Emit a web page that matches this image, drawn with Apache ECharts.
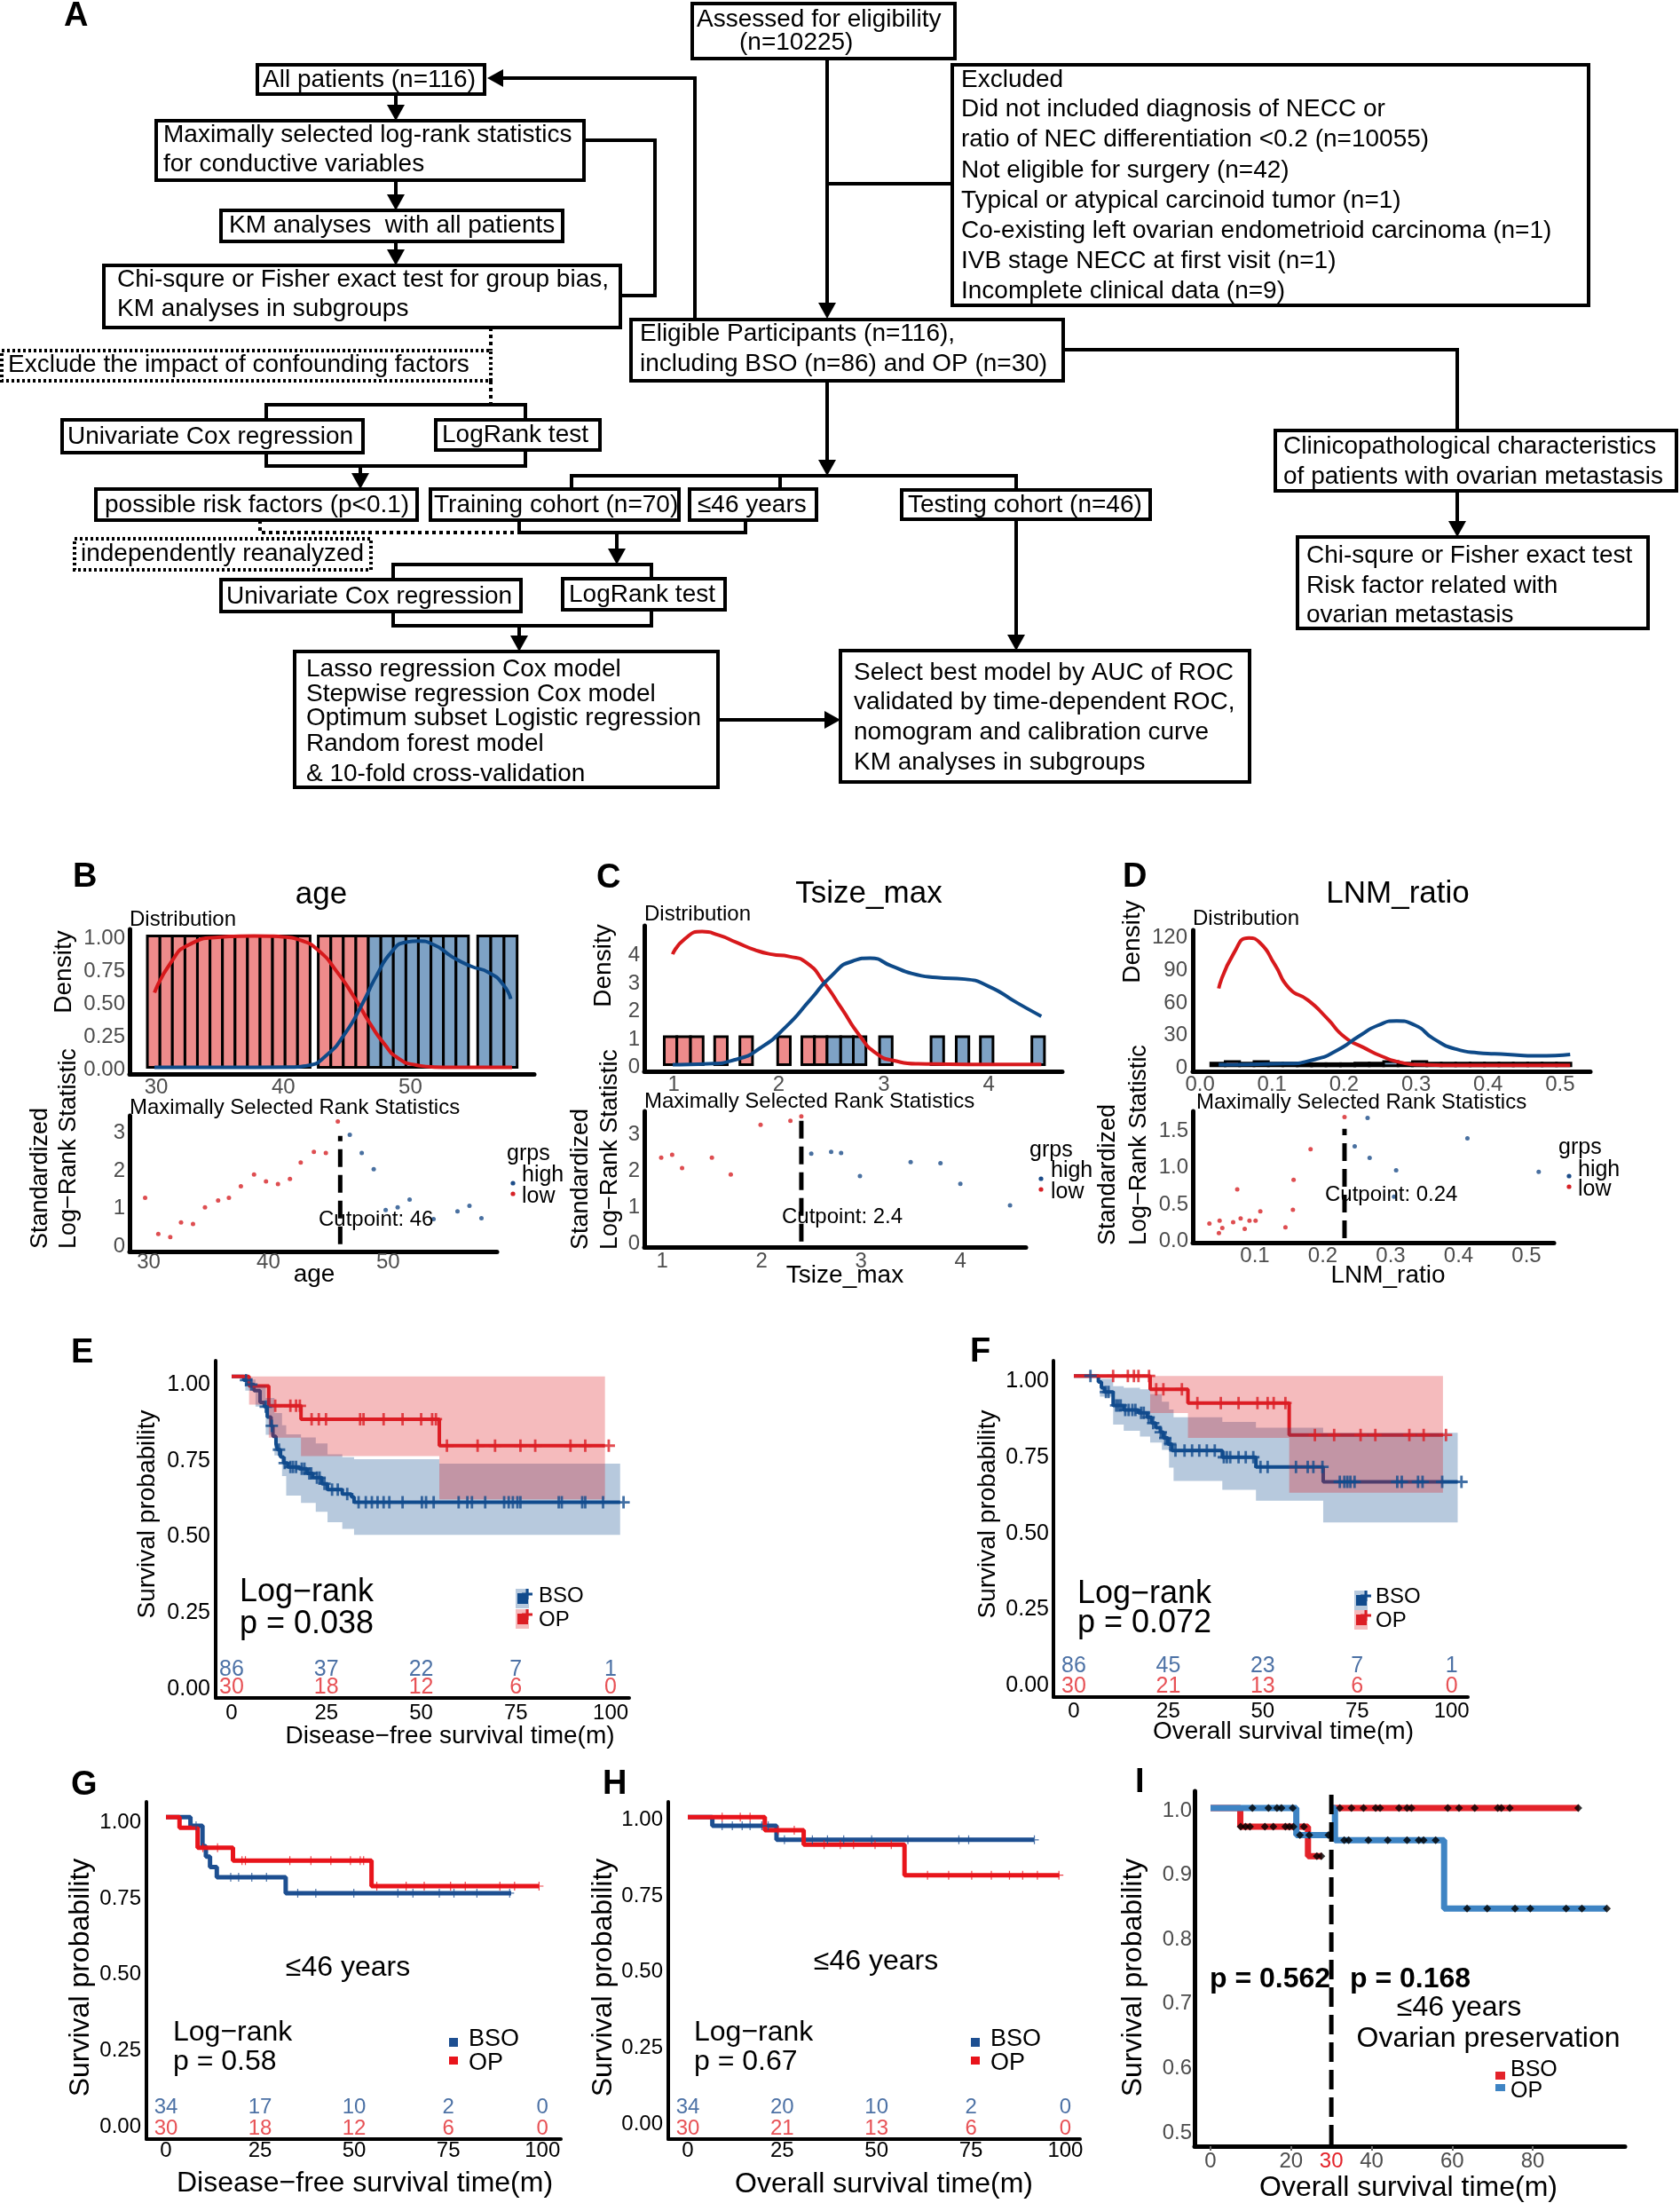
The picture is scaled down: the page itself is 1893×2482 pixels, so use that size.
<!DOCTYPE html>
<html><head><meta charset="utf-8">
<script src="https://cdn.jsdelivr.net/npm/echarts@6/dist/echarts.min.js"></script>
<style>html,body{margin:0;padding:0;background:#fff}#c{width:1893px;height:2482px}</style>
</head><body><div id="c"></div>
<script>
// ---------------- DATA ----------------
// Panel A flowchart texts
const flowText = [
 ['Assessed for eligibility','(n=10225)'],
 ['All patients (n=116)'],
 ['Maximally selected log-rank statistics','for conductive variables'],
 ['KM analyses  with all patients'],
 ['Chi-squre or Fisher exact test for group bias,','KM analyses in subgroups'],
 ['Exclude the impact of confounding factors'],
 ['Univariate Cox regression'],
 ['LogRank test'],
 ['possible risk factors (p<0.1)'],
 ['Training cohort (n=70)'],
 ['\u226446 years'],
 ['Testing cohort (n=46)'],
 ['independently reanalyzed'],
 ['Univariate Cox regression'],
 ['LogRank test'],
 ['Lasso regression Cox model','Stepwise regression Cox model','Optimum subset Logistic regression','Random forest model','& 10-fold cross-validation'],
 ['Select best model by AUC of ROC','validated by time-dependent ROC,','nomogram and calibration curve','KM analyses in subgroups'],
 ['Excluded','Did not included diagnosis of NECC or','ratio of NEC differentiation <0.2 (n=10055)','Not eligible for surgery (n=42)','Typical or atypical carcinoid tumor (n=1)','Co-existing left ovarian endometrioid carcinoma (n=1)','IVB stage NECC at first visit (n=1)','Incomplete clinical data (n=9)'],
 ['Eligible Participants (n=116),','including BSO (n=86) and OP (n=30)'],
 ['Clinicopathological characteristics','of patients with ovarian metastasis'],
 ['Chi-squre or Fisher exact test','Risk factor related with','ovarian metastasis']
];

// Panel B: age
const ageTicks = [30, 40, 50];
const ageBinLeft  = [29.30,30.29,31.27,32.26,33.24,34.23,35.21,36.20,37.18,38.17,39.15,40.14,41.12,42.75,43.74,44.72,45.71,46.69,47.68,48.66,49.65,50.63,51.62,52.60,53.59,55.30,56.33,57.37];
const ageBinRight = [30.29,31.27,32.26,33.24,34.23,35.21,36.20,37.18,38.17,39.15,40.14,41.12,42.11,43.74,44.72,45.71,46.69,47.68,48.66,49.65,50.63,51.62,52.60,53.59,54.57,56.33,57.37,58.40];
const ageBinHeight= [1,1,1,1,1,1,1,1,1,1,1,1,1,1,1,1,1,1,1,1,1,1,1,1,1,1,1,1];
const ageBinGroup = [0,0,0,0,0,0,0,0,0,0,0,0,0,0,0,0,0,1,1,1,1,1,1,1,1,1,1,1];
const ageDensLow  = [[29.86,0.568],[31.14,0.795],[32.56,0.932],[34.84,0.989],[37.68,1.0],[39.96,0.993],[41.38,0.966],[42.8,0.886],[44.22,0.727],[45.65,0.523],[46.78,0.341],[47.92,0.182],[49.06,0.068],[50.48,0.018],[51.9,0.003],[54.0,0],[58.0,0]];
const ageDensHigh = [[29.86,0],[35.0,0],[40.5,0.002],[41.95,0.015],[43.37,0.09],[44.8,0.25],[46.2,0.48],[47.35,0.70],[48.5,0.875],[49.6,0.95],[50.6,0.96],[51.9,0.93],[53.3,0.84],[54.75,0.77],[56.2,0.72],[57.3,0.63],[57.9,0.52]];
const ageStatLow  = [[29.7,1.22],[30.8,0.27],[31.8,0.19],[32.7,0.57],[33.7,0.53],[34.7,0.97],[35.8,1.15],[36.7,1.22],[37.7,1.52],[38.8,1.83],[39.8,1.65],[40.8,1.58],[41.8,1.71],[42.7,2.14],[43.8,2.42],[44.8,2.39],[45.8,3.22]];
const ageStatHigh = [[46.8,2.87],[47.8,2.39],[48.8,1.97],[49.8,0.90],[50.8,0.97],[51.8,1.17],[53.8,0.66],[55.8,0.86],[56.8,1.01],[57.8,0.68]];
const ageCut = 46;

// Panel C: Tsize_max
const tsBinLeft  = [0.91,1.03,1.16,1.39,1.63,1.99,2.22,2.34,2.46,2.59,2.71,2.96,3.45,3.69,3.92,4.41];
const tsBinRight = [1.03,1.16,1.28,1.51,1.75,2.11,2.34,2.46,2.59,2.71,2.83,3.08,3.57,3.81,4.04,4.53];
const tsBinHeight= [1,1,1,1,1,1,1,1,1,1,1,1,1,1,1,1];
const tsBinGroup = [0,0,0,0,0,0,0,0,1,1,1,1,1,1,1,1];
const tsDensLow  = [[0.99,3.95],[1.10,4.48],[1.27,4.76],[1.43,4.63],[1.6,4.37],[1.77,4.11],[1.93,3.95],[2.1,3.87],[2.27,3.63],[2.43,2.94],[2.6,2.0],[2.77,1.04],[2.93,0.40],[3.1,0.14],[3.33,0.03],[3.8,0.01],[4.5,0.01]];
const tsDensHigh = [[0.99,0.0],[1.33,0.03],[1.6,0.19],[1.83,0.61],[2.07,1.36],[2.3,2.32],[2.5,3.17],[2.7,3.70],[2.87,3.81],[3.07,3.54],[3.27,3.26],[3.5,3.12],[3.77,3.06],[4.0,2.8],[4.27,2.21],[4.5,1.73]];
const tsStatLow  = [[0.99,2.29],[1.10,2.37],[1.20,2.01],[1.50,2.29],[1.69,1.83],[1.99,3.19],[2.29,3.30],[2.40,3.42]];
const tsStatHigh = [[2.50,2.40],[2.70,2.45],[2.80,2.42],[2.99,1.79],[3.50,2.17],[3.80,2.14],[4.00,1.58],[4.50,0.99]];
const tsCut = 2.4;

// Panel D: LNM_ratio
const lnmBinLeft  = [0.015,0.035,0.055,0.075,0.095,0.115,0.135,0.155,0.175,0.195,0.215,0.235,0.255,0.275,0.295,0.315,0.335,0.355,0.375,0.395,0.415,0.435,0.455,0.475,0.495];
const lnmBinRight = [0.035,0.055,0.075,0.095,0.115,0.135,0.155,0.175,0.195,0.215,0.235,0.255,0.275,0.295,0.315,0.335,0.355,0.375,0.395,0.415,0.435,0.455,0.475,0.495,0.515];
const lnmBinHeight= [2.5,4,2.5,4,2.5,2.5,2,2,2,2,2.5,2.5,4,2.5,4,2.5,2.5,2.5,2.5,2.5,2.5,2.5,2.5,2.5,2.5];
const lnmBinGroup = [0,0,0,0,0,0,0,0,0,0,0,1,1,1,1,1,1,1,1,1,1,1,1,1,1];
const lnmDensLow  = [[0.026,70.8],[0.047,103],[0.068,116.8],[0.083,112.7],[0.104,92.4],[0.124,70.8],[0.150,60],[0.176,43.8],[0.201,26.2],[0.227,16.8],[0.253,8.6],[0.278,3.2],[0.304,1.1],[0.376,0.5],[0.514,0.5]];
const lnmDensHigh = [[0.026,1],[0.119,2],[0.16,6],[0.19,14],[0.222,27.6],[0.247,37],[0.273,41],[0.299,37],[0.324,24.9],[0.355,15.4],[0.386,11.9],[0.427,10.5],[0.468,9.2],[0.514,10.5]];
const lnmStatLow  = [[0.033,0.20],[0.048,0.24],[0.047,0.07],[0.052,0.14],[0.068,0.22],[0.074,0.67],[0.079,0.27],[0.085,0.13],[0.092,0.24],[0.101,0.24],[0.108,0.37],[0.145,0.15],[0.156,0.39],[0.157,0.80],[0.182,1.22],[0.232,1.66]];
const lnmStatHigh = [[0.247,1.26],[0.266,1.65],[0.269,1.10],[0.308,0.93],[0.305,0.57],[0.413,1.37],[0.518,0.91]];
const lnmCut = 0.232;

// Panel E: disease-free survival, all patients
const dfsBSO_t = [0,3.2,4.4,5.9,7.5,8.6,9.4,10.4,10.9,11.7,12.1,12.9,13.7,14.8,17.9,19.9,21.4,23.8,25.3,29.2,31.6,32.3,102.5];
const dfsBSO_s = [1,0.988,0.974,0.954,0.915,0.901,0.867,0.838,0.804,0.779,0.760,0.736,0.716,0.703,0.697,0.682,0.668,0.648,0.629,0.614,0.605,0.587,0.587];
const dfsBSO_cens = [3.8,5.2,9.0,10.6,12.5,14.0,15.5,16.2,17.0,18.5,19.2,20.5,21.0,22.5,23.2,24.5,26.5,28.0,30.5,33.5,35.4,37.0,38.5,40.1,41.6,45.1,50.2,51.3,53.3,59.9,62.2,63.4,66.9,71.9,73.1,74.2,75.4,76.2,86.3,87.1,92.5,93.3,98.0,103.4];
const dfsBSO_ciT  = [0,3.6,6.3,9.0,11.3,13.3,14.4,18.3,22.2,25.3,29.2,32.3,54.8,102.5];
const dfsBSO_ciLo = [1,0.954,0.901,0.809,0.741,0.673,0.609,0.585,0.556,0.522,0.500,0.480,0.480,0.480];
const dfsBSO_ciHi = [1,0.99,0.97,0.93,0.88,0.84,0.81,0.80,0.78,0.745,0.735,0.729,0.714,0.714];
const dfsOP_t = [0,4.6,9.8,18.3,54.8,98.5];
const dfsOP_s = [1,0.969,0.904,0.860,0.773,0.773];
const dfsOP_cens = [11.5,15.5,17.0,18.0,21.1,23.0,24.9,33.9,34.8,40.1,45.1,50.0,52.9,53.9,56.8,64.9,69.5,76.2,80.1,89.4,93.3,99.5];
const dfsOP_ciT  = [4.6,9.8,18.3,54.8,98.5];
const dfsOP_ciLo = [0.908,0.799,0.739,0.597,0.597];
const dfsOP_ciHi = [1,1,1,1,1];

// Panel F: overall survival, all patients
const osBSO_t = [0,6.5,7.3,8.1,10.4,13.2,17.1,19.4,20.6,21.7,22.9,23.7,24.9,26.0,39.3,48.2,66.0,101.6];
const osBSO_s = [1,0.980,0.961,0.947,0.903,0.888,0.879,0.864,0.845,0.830,0.815,0.796,0.776,0.755,0.733,0.701,0.652,0.652];
const osBSO_cens = [4.4,8.5,9.2,11.2,11.8,12.4,13.6,14.5,15.5,16.3,17.8,18.5,19.8,21.0,23.0,24.2,25.5,26.9,29.3,31.3,33.2,35.2,37.3,39.7,40.5,41.4,43.6,45.5,47.5,49.4,51.3,58.8,61.9,63.4,65.8,70.4,71.6,72.4,73.2,74.3,85.6,86.8,91.1,92.3,97.5,102.6];
const osBSO_ciT  = [0,6.9,10.4,13.2,17.5,20.2,23.3,25.2,26.4,39.3,48.2,66.0,101.6];
const osBSO_ciLo = [1,0.932,0.840,0.820,0.801,0.781,0.757,0.699,0.655,0.626,0.590,0.519,0.519];
const osBSO_ciHi = [1,0.99,0.966,0.961,0.956,0.94,0.915,0.89,0.864,0.849,0.830,0.813,0.813];
const osOP_t = [0,20.2,30.2,57.0,97.7];
const osOP_s = [1,0.956,0.911,0.806,0.806];
const osOP_cens = [10.4,14.3,15.9,17.1,19.9,21.8,23.7,28.6,32.7,38.9,43.6,48.6,51.3,52.9,56.0,63.8,68.9,75.9,79.8,88.8,92.6,98.5];
const osOP_ciT  = [20.2,30.2,57.0,97.7];
const osOP_ciLo = [0.878,0.796,0.616,0.616];
const osOP_ciHi = [1,1,1,1];

// Panel G / H: <=46 years
const dfsYBSO_t = [0,6.5,9.7,10.6,11.7,13.5,31.8,91.7];
const dfsYBSO_s = [1,0.971,0.904,0.870,0.836,0.802,0.750,0.750];
const dfsYBSO_cens = [8.0,17.2,19.3,22.8,26.7,35.0,39.8,49.9,61.6,65.6,72.6,76.5,82.6,91.3];
const dfsYOP_t = [0,3.6,8.4,17.8,54.6,99.1];
const dfsYOP_s = [1,0.965,0.899,0.857,0.773,0.773];
const dfsYOP_cens = [9.8,13.7,20.2,21.1,32.9,38.5,43.8,49.0,51.6,52.5,56.0,63.8,68.6,75.6,79.5,88.7,92.6,99.1];
const osYBSO_t = [0,6.5,23.5,91.7];
const osYBSO_s = [1,0.971,0.925,0.925];
const osYBSO_cens = [9.1,11.8,14.4,16.5,19.6,21.3,25.6,33.0,37.0,41.3,48.7,58.3,71.8,74.4,91.8];
const osYOP_t = [0,20.4,30.7,57.4,98.4];
const osYOP_s = [1,0.957,0.909,0.809,0.809];
const osYOP_cens = [9.1,13.9,16.5,23.9,28.2,36.1,40.4,43.9,49.6,53.9,63.5,69.1,75.2,80.4,85.2,88.7,92.6,98.3];

// Panel I: landmark at 30 months, ovarian preservation
const landmark = 30;
const lmBSOpre_t = [0,7.4,24.2,27.7];  const lmBSOpre_s = [1,0.971,0.925,0.925];
const lmBSOpost_t = [30,91.5];        const lmBSOpost_s = [1,1];
const lmOPpre_t = [0,21.3,30.0];       const lmOPpre_s = [1,0.958,0.958];
const lmOPpost_t = [30,30.9,58.0,98.4]; const lmOPpost_s = [1,0.95,0.844,0.844];
const lmBSOpre_cens = [7.5,8.7,9.8,13.5,15.6,18.6,19.6,20.6,23.2,26.4,27.5];
const lmBSOpost_cens = [32.1,35.0,38.0,41.0,42.1,46.8,48.8,49.9,58.9,61.7,65.6,71.3,72.2,74.3,91.3];
const lmOPpre_cens = [10.4,14.4,16.5,17.6,20.4,22.2,24.5,29.3];
const lmOPpost_cens = [33.2,34.3,39.2,44.0,48.8,51.7,52.9,55.9,63.7,68.7,75.6,79.4,88.3,92.2,98.4];

// Risk tables
const riskTimes = [0,25,50,75,100];
const riskDfsBSO = [86,37,22,7,1];   const riskDfsOP = [30,18,12,6,0];
const riskOsBSO  = [86,45,23,7,1];   const riskOsOP  = [30,21,13,6,0];
const riskDfsYBSO = [34,17,10,2,0];  const riskDfsYOP = [30,18,12,6,0];
const riskOsYBSO  = [34,20,10,2,0];  const riskOsYOP  = [30,21,13,6,0];

// tick values
const kmTicksX = [0,25,50,75,100];
const kmTicksY = [0,0.25,0.5,0.75,1];

// ---------------- STYLE ----------------
const FONT = '"Liberation Sans", Arial, Helvetica, "DejaVu Sans", sans-serif';
const GRAY = '#4D4D4D';
const BAR_RED = '#EE8B8B', BAR_BLUE = '#7EA2C5';
const DRED = '#D7191C', DBLUE = '#0E4A88';
const PRED = '#D62226', PBLUE = '#1C4C88';
const KRED = '#DC1E24', KBLUE = '#114B8D';
const KRED_BAND = 'rgba(222,31,38,0.3)', KBLUE_BAND = 'rgba(17,75,141,0.3)';
const GRED = '#E8141B', GBLUE = '#1D4F91';
const IRED = '#E3232A', IBLUE = '#3E84C4';
const RISK_BLUE = '#1F4E8F', RISK_RED = '#E1262A';
const PLUS = 'path://M4,0H6V4H10V6H6V10H4V6H0V4H4Z';
const PLUS_THIN = 'path://M4.4,0H5.6V4.4H10V5.6H5.6V10H4.4V5.6H0V4.4H4.4Z';

const levelAt = (t, T, V) => { let v = V[0]; for (let i = 0; i < T.length; i++) if (T[i] <= t) v = V[i]; return v; };
const zip = (T, V) => T.map((t, i) => [t, V[i]]);

// ---------------- GRIDS / AXES ----------------
const GR = [
 {l:146, t:1047, w:456, h:163, x:[27.9,59.75], y:[-0.05,1.05]},
 {l:146, t:1257, w:414, h:153, x:[28.4,59.1], y:[-0.19,3.37]},
 {l:726, t:1043, w:471, h:164, x:[0.72,4.70], y:[-0.24,4.97]},
 {l:726, t:1252, w:430, h:153, x:[0.82,4.66], y:[-0.15,3.56]},
 {l:1344, t:1048, w:448, h:159, x:[-0.01,0.542], y:[-5,124]},
 {l:1344, t:1252, w:407, h:148, x:[0.0085,0.5405], y:[-0.06,1.74]},
 {l:243, t:1533, w:466, h:380, x:[-4.215,104.9], y:[-0.055,1.052]},
 {l:1187, t:1533, w:467, h:379, x:[-5.4,104.3], y:[-0.055,1.05]},
 {l:165, t:2030, w:467, h:380, x:[-5.19,104.9], y:[-0.058,1.05]},
 {l:753, t:2030, w:464, h:380, x:[-5.17,103.9], y:[-0.058,1.05]},
 {l:1346, t:2018, w:485, h:400, x:[-3.96,102.9], y:[0.4752,1.026]}
];
const f0 = v => String(v), f1 = v => v.toFixed(1), f2 = v => v.toFixed(2);
const AX = [
 {x:{v:ageTicks, f:f0, c:GRAY, s:24, m:3, lw:5}, y:{v:[0,0.25,0.5,0.75,1], f:f2, c:GRAY, s:24, m:5, lw:5, pt:6}},
 {x:{v:ageTicks, f:f0, c:GRAY, s:24, m:0, lw:5}, y:{v:[0,1,2,3], f:f0, c:GRAY, s:24, m:5, lw:5, pt:6}},
 {x:{v:[1,2,3,4], f:f0, c:GRAY, s:24, m:3, lw:5}, y:{v:[0,1,2,3,4], f:f0, c:GRAY, s:24, m:5, lw:5, pt:6}},
 {x:{v:[1,2,3,4], f:f0, c:GRAY, s:24, m:4, lw:5}, y:{v:[0,1,2,3], f:f0, c:GRAY, s:24, m:5, lw:5, pt:6}},
 {x:{v:[0,0.1,0.2,0.3,0.4,0.5], f:f1, c:GRAY, s:24, m:3, lw:5}, y:{v:[0,30,60,90,120], f:f0, c:GRAY, s:24, m:6, lw:5, pt:6}},
 {x:{v:[0.1,0.2,0.3,0.4,0.5], f:f1, c:GRAY, s:24, m:3, lw:5}, y:{v:[0,0.5,1,1.5], f:f1, c:GRAY, s:24, m:5, lw:5, pt:6}},
 {x:{v:kmTicksX, f:f0, c:'#000', s:24, m:5, lw:4}, y:{v:kmTicksY, f:f2, c:'#000', s:25, m:6, lw:4, pt:18}},
 {x:{v:kmTicksX, f:f0, c:'#000', s:24, m:4, lw:4}, y:{v:kmTicksY, f:f2, c:'#000', s:25, m:5, lw:4, pt:12}},
 {x:{v:kmTicksX, f:f0, c:'#000', s:24, m:1, lw:4}, y:{v:kmTicksY, f:f2, c:'#000', s:24, m:6, lw:4, pt:12}},
 {x:{v:kmTicksX, f:f0, c:'#000', s:24, m:1, lw:4}, y:{v:kmTicksY, f:f2, c:'#000', s:24, m:6, lw:4, pt:6}},
 {x:{v:[0,20,30,40,60,80], f:v => v === landmark ? '{r|' + v + '}' : String(v), c:GRAY, s:24, m:5, lw:5, tick:[0,20,40,60,80], rich:{r:{color:IRED, fontSize:24, fontFamily:FONT}}},
  y:{v:[0.5,0.6,0.7,0.8,0.9,1.0], f:f1, c:GRAY, s:24, m:3, lw:5, pt:6}}
];
function mkAxis(g, a, mm) {
 let fmt = a.f, rich = a.rich;
 if (a.pt) {
  fmt = v => '{p|' + a.f(v) + '}';
  rich = {p:{padding:[a.pt,0,0,0], fontSize:a.s, color:a.c, fontFamily:FONT}};
 }
 return {type:'value', gridIndex:g, min:mm[0], max:mm[1],
  axisLine:{show:true, onZero:false, lineStyle:{color:'#000', width:a.lw}},
  axisTick:a.tick ? {show:true, customValues:a.tick, length:5, lineStyle:{color:'#666', width:2}} : {show:false},
  splitLine:{show:false},
  axisLabel:{show:true, customValues:a.v, formatter:fmt, color:a.c, fontSize:a.s, fontFamily:FONT, margin:a.m, rich:rich}};
}
const grids = GR.map(g => ({left:g.l, top:g.t, width:g.w, height:g.h, containLabel:false, outerBoundsMode:'none'}));
const xAxes = GR.map((g, i) => mkAxis(i, AX[i].x, g.x));
const yAxes = GR.map((g, i) => mkAxis(i, AX[i].y, g.y));

// ---------------- SERIES ----------------
const S = [];
function bins(g, L, R, H, grp) {
 S.push({type:'custom', xAxisIndex:g, yAxisIndex:g, silent:true, z:2,
  data:L.map((l, i) => [l, R[i], H[i], grp[i]]),
  renderItem:(p, api) => {
   const a = api.coord([api.value(0), 0]), b = api.coord([api.value(1), api.value(2)]);
   return {type:'rect', shape:{x:a[0], y:b[1], width:b[0]-a[0], height:a[1]-b[1]},
     style:{fill:api.value(3) ? BAR_BLUE : BAR_RED, stroke:'#000', lineWidth:3}};
  }});
}
function dens(g, pts, color) {
 S.push({type:'line', xAxisIndex:g, yAxisIndex:g, data:pts, smooth:0.6, symbol:'none', silent:true, z:5, lineStyle:{color, width:4}});
}
function dots(g, pts, color) {
 S.push({type:'scatter', xAxisIndex:g, yAxisIndex:g, data:pts, symbol:'circle', symbolSize:5, silent:true, z:5, itemStyle:{color}});
}
function vdash(g, x, y0, y1, w, dash) {
 S.push({type:'line', xAxisIndex:g, yAxisIndex:g, data:[[x,y0],[x,y1]], symbol:'none', silent:true, z:6, lineStyle:{color:'#000', width:w, type:dash}});
}
function stepLine(g, T, V, color, w, z) {
 S.push({type:'line', xAxisIndex:g, yAxisIndex:g, step:'end', data:zip(T, V), symbol:'none', silent:true, z:z || 2, lineStyle:{color, width:w}});
}
function band(g, T, lo, hi, color) {
 S.push({type:'custom', xAxisIndex:g, yAxisIndex:g, silent:true, z:3, data:[[T[0], lo[0]]],
  renderItem:(p, api) => {
   const top = [], bot = [];
   for (let i = 0; i < T.length; i++) {
    const x1 = i < T.length - 1 ? T[i+1] : T[i];
    top.push(api.coord([T[i], hi[i]]), api.coord([x1, hi[i]]));
    bot.push(api.coord([T[i], lo[i]]), api.coord([x1, lo[i]]));
   }
   return {type:'polygon', shape:{points:top.concat(bot.reverse())}, style:{fill:color}};
  }});
}
function censor(g, times, T, V, color, sym, size) {
 S.push({type:'scatter', xAxisIndex:g, yAxisIndex:g, data:times.map(t => [t, levelAt(t, T, V)]), symbol:sym, symbolSize:size, silent:true, z:4, itemStyle:{color}});
}
function risk(g, counts, y, color, size) {
 S.push({type:'scatter', xAxisIndex:g, yAxisIndex:g, data:riskTimes.map((t, i) => [t, y, counts[i]]), symbolSize:1, silent:true, z:5,
  itemStyle:{color:'rgba(0,0,0,0)'},
  label:{show:true, position:'inside', formatter:p => String(p.value[2]), color, fontSize:size, fontFamily:FONT}});
}

// B
bins(0, ageBinLeft, ageBinRight, ageBinHeight, ageBinGroup);
dens(0, ageDensLow, DRED); dens(0, ageDensHigh, DBLUE);
dots(1, ageStatLow, PRED); dots(1, ageStatHigh, PBLUE);
vdash(1, ageCut, 0, 2.84, 5, [20, 9]);
// C
bins(2, tsBinLeft, tsBinRight, tsBinHeight, tsBinGroup);
dens(2, tsDensLow, DRED); dens(2, tsDensHigh, DBLUE);
dots(3, tsStatLow, PRED); dots(3, tsStatHigh, PBLUE);
vdash(3, tsCut, 0, 3.44, 5, [20, 9]);
// D
bins(4, lnmBinLeft, lnmBinRight, lnmBinHeight, lnmBinGroup);
dens(4, lnmDensLow, DRED); dens(4, lnmDensHigh, DBLUE);
dots(5, lnmStatLow, PRED); dots(5, lnmStatHigh, PBLUE);
vdash(5, lnmCut, 0, 1.5, 5, [20, 9]);
// E
stepLine(6, dfsBSO_t, dfsBSO_s, KBLUE, 4); stepLine(6, dfsOP_t, dfsOP_s, KRED, 4);
band(6, dfsBSO_ciT, dfsBSO_ciLo, dfsBSO_ciHi, KBLUE_BAND); band(6, dfsOP_ciT, dfsOP_ciLo, dfsOP_ciHi, KRED_BAND);
censor(6, dfsBSO_cens, dfsBSO_t, dfsBSO_s, KBLUE, PLUS, 14); censor(6, dfsOP_cens, dfsOP_t, dfsOP_s, KRED, PLUS, 14);
risk(6, riskDfsBSO, 0.038, RISK_BLUE, 25); risk(6, riskDfsOP, -0.020, RISK_RED, 25);
// F
stepLine(7, osBSO_t, osBSO_s, KBLUE, 4); stepLine(7, osOP_t, osOP_s, KRED, 4);
band(7, osBSO_ciT, osBSO_ciLo, osBSO_ciHi, KBLUE_BAND); band(7, osOP_ciT, osOP_ciLo, osOP_ciHi, KRED_BAND);
censor(7, osBSO_cens, osBSO_t, osBSO_s, KBLUE, PLUS, 14); censor(7, osOP_cens, osOP_t, osOP_s, KRED, PLUS, 14);
risk(7, riskOsBSO, 0.047, RISK_BLUE, 25); risk(7, riskOsOP, -0.020, RISK_RED, 25);
// G
stepLine(8, dfsYBSO_t, dfsYBSO_s, GBLUE, 5); stepLine(8, dfsYOP_t, dfsYOP_s, GRED, 5);
censor(8, dfsYBSO_cens, dfsYBSO_t, dfsYBSO_s, GBLUE, PLUS_THIN, 10); censor(8, dfsYOP_cens, dfsYOP_t, dfsYOP_s, GRED, PLUS_THIN, 10);
risk(8, riskDfsYBSO, 0.047, RISK_BLUE, 24); risk(8, riskDfsYOP, -0.023, RISK_RED, 24);
// H
stepLine(9, osYBSO_t, osYBSO_s, GBLUE, 5); stepLine(9, osYOP_t, osYOP_s, GRED, 5);
censor(9, osYBSO_cens, osYBSO_t, osYBSO_s, GBLUE, PLUS_THIN, 10); censor(9, osYOP_cens, osYOP_t, osYOP_s, GRED, PLUS_THIN, 10);
risk(9, riskOsYBSO, 0.047, RISK_BLUE, 24); risk(9, riskOsYOP, -0.023, RISK_RED, 24);
// I
stepLine(10, lmBSOpre_t, lmBSOpre_s, IRED, 7); stepLine(10, lmBSOpost_t, lmBSOpost_s, IRED, 7);
stepLine(10, lmOPpre_t, lmOPpre_s, IBLUE, 7, 3); stepLine(10, lmOPpost_t, lmOPpost_s, IBLUE, 7, 3);
censor(10, lmBSOpre_cens, lmBSOpre_t, lmBSOpre_s, '#000', 'diamond', 9);
censor(10, lmBSOpost_cens, lmBSOpost_t, lmBSOpost_s, '#000', 'diamond', 9);
censor(10, lmOPpre_cens, lmOPpre_t, lmOPpre_s, '#000', 'diamond', 9);
censor(10, lmOPpost_cens, lmOPpost_t, lmOPpost_s, '#000', 'diamond', 9);
vdash(10, landmark, 0.478, 1.022, 5, [22, 9]);

// ---------------- GRAPHIC (flowchart + annotations) ----------------
const GE = [];
function T(text, x, y, size, o) {
 o = o || {};
 const al = o.align || 'left', va = o.va || 'middle';
 GE.push({type:'text', x, y, rotation:o.rot || 0, z:50, silent:true,
  style:{text, x:0, y:0, font:(o.bold ? 'bold ' : '') + size + 'px ' + FONT, fill:o.color || '#000',
   align:al, textAlign:al, verticalAlign:va, textVerticalAlign:va}});
}
function R(x, y, w, h, fill, stroke, lw, dash) {
 GE.push({type:'rect', z:40, silent:true, shape:{x, y, width:w, height:h},
  style:{fill:fill, stroke:stroke || null, lineWidth:lw || 0, lineDash:dash || null}});
}
function L(points, dash) {
 GE.push({type:'polyline', z:41, silent:true, shape:{points}, style:{stroke:'#000', lineWidth:4, fill:null, lineDash:dash || null}});
}
function arrow(x, y, dir) { // tip at x,y
 const a = 18, b = 10; let p;
 if (dir === 'down') p = [[x,y],[x-b,y-a],[x+b,y-a]];
 else if (dir === 'left') p = [[x,y],[x+a,y-b],[x+a,y+b]];
 else p = [[x,y],[x-a,y-b],[x-a,y+b]];
 GE.push({type:'polygon', z:42, silent:true, shape:{points:p}, style:{fill:'#000'}});
}
function plusShape(cx, cy, len, th, color) {
 const h = len/2, t = th/2;
 GE.push({type:'polygon', z:45, silent:true, shape:{points:[[cx-t,cy-h],[cx+t,cy-h],[cx+t,cy-t],[cx+h,cy-t],[cx+h,cy+t],[cx+t,cy+t],[cx+t,cy+h],[cx-t,cy+h],[cx-t,cy+t],[cx-h,cy+t],[cx-h,cy-t],[cx-t,cy-t]]}, style:{fill:color}});
}
function circ(cx, cy, r, color) { GE.push({type:'circle', z:45, silent:true, shape:{cx, cy, r}, style:{fill:color}}); }

// Flowchart layout: [x, y, w, h, text anchors, dotted]
const flowLayout = [
 [780,4,296,62, [[785,22],[833,48]]],
 [290,73,256,33, [[296,90]]],
 [176,136,482,67, [[184,152],[184,185]]],
 [249,237,385,35, [[258,254]]],
 [117,299,582,70, [[132,315],[132,348]]],
 [2,395,551,34, [[9,411]], true],
 [70,473,339,37, [[76,492]]],
 [491,473,185,34, [[498,490]]],
 [108,551,362,35, [[118,569]]],
 [485,551,280,35, [[489,569]]],
 [777,551,143,35, [[786,569]]],
 [1016,552,280,33, [[1023,569]]],
 [84,607,334,35, [[91,624]], true],
 [249,653,338,36, [[255,672]]],
 [634,652,183,35, [[641,670]]],
 [332,734,477,153, [[345,754],[345,782],[345,809],[345,838],[345,872]]],
 [947,733,461,148, [[962,758],[962,791],[962,825],[962,859]]],
 [1073,73,717,271, [[1083,90],[1083,123],[1083,157],[1083,192],[1083,226],[1083,260],[1083,294],[1083,328]]],
 [711,360,487,69, [[721,376],[721,410]]],
 [1437,485,452,68, [[1446,503],[1446,537]]],
 [1462,605,395,103, [[1472,626],[1472,660],[1472,693]]]
];
// connectors
L([[932,66],[932,350]]); arrow(932,359,'down');
L([[932,207],[1073,207]]);
L([[783,360],[783,88],[560,88]]); arrow(549,88,'left');
L([[658,158],[738,158],[738,333],[699,333]]);
L([[446,106],[446,128]]); arrow(446,136,'down');
L([[446,203],[446,229]]); arrow(446,237,'down');
L([[446,272],[446,291]]); arrow(446,299,'down');
L([[553,369],[553,395]], [4,4]);
L([[553,429],[553,456]], [4,4]);
L([[300,473],[300,456],[592,456],[592,473]]);
L([[300,510],[300,525],[592,525],[592,507]]);
L([[406,525],[406,543]]); arrow(406,551,'down');
L([[293,586],[293,600],[585,600]], [4,4]);
L([[585,586],[585,600],[840,600],[840,586]]);
L([[695,600],[695,628]]); arrow(695,636,'down');
L([[443,653],[443,636],[734,636],[734,652]]);
L([[443,689],[443,705],[734,705],[734,687]]);
L([[585,705],[585,726]]); arrow(585,734,'down');
L([[809,811],[939,811]]); arrow(947,811,'right');
L([[932,429],[932,528]]); arrow(932,536,'down');
L([[644,551],[644,536],[1145,536],[1145,552]]);
L([[879,536],[879,551]]);
L([[1145,585],[1145,725]]); arrow(1145,733,'down');
L([[1198,394],[1642,394],[1642,485]]);
L([[1642,553],[1642,597]]); arrow(1642,605,'down');
flowLayout.forEach((b, i) => {
 R(b[0], b[1], b[2], b[3], '#fff', '#000', 4, b[5] ? [3,3] : null);
 b[4].forEach((p, j) => T(flowText[i][j], p[0], p[1], 28));
});

// panel letters
[['A',72,19],['B',82,989],['C',672,990],['D',1265,989],['E',80,1525],['F',1093,1524],['G',80,2012],['H',679,2011],['I',1279,2009]]
 .forEach(l => T(l[0], l[1], l[2], 38, {bold:true}));
// B/C/D titles and labels
T('age', 362, 1008, 35, {align:'center'});
T('Tsize_max', 979, 1007, 35, {align:'center'});
T('LNM_ratio', 1575, 1007, 35, {align:'center'});
[[146,1036],[726,1030],[1344,1035]].forEach(p => T('Distribution', p[0], p[1], 24));
[[146,1248],[726,1241],[1348,1242]].forEach(p => T('Maximally Selected Rank Statistics', p[0], p[1], 24));
[[72,1095],[680,1088],[1276,1061]].forEach(p => T('Density', p[0], p[1], 28, {rot:Math.PI/2, align:'center'}));
[[78,1407],[688,1408],[1284,1403]].forEach(p => T('Log\u2212Rank Statistic', p[0], p[1], 27, {rot:Math.PI/2}));
[[46,1407],[655,1408],[1249,1403]].forEach(p => T('Standardized', p[0], p[1], 27, {rot:Math.PI/2}));
T('Cutpoint: ' + ageCut, 359, 1374, 24);
T('Cutpoint: ' + tsCut, 881, 1371, 24);
T('Cutpoint: 0.24', 1493, 1346, 24);
T('age', 354, 1436, 28, {align:'center'});
T('Tsize_max', 952, 1437, 28, {align:'center'});
T('LNM_ratio', 1564, 1437, 28, {align:'center'});
[[571,1300,578,1333,1345,588,1324,1348],[1160,1296,1173,1328,1340,1184,1319,1343],[1756,1293,1768,1325,1337,1778,1318,1340]]
 .forEach(q => { T('grps', q[0], q[1], 25); circ(q[2], q[3], 2.6, PBLUE); circ(q[2], q[4], 2.6, PRED); T('high', q[5], q[6], 25); T('low', q[5], q[7], 25); });

// E / F annotations
T('Log\u2212rank', 270, 1794, 36); T('p = 0.038', 270, 1830, 36);
T('Log\u2212rank', 1214, 1796, 36); T('p = 0.072', 1214, 1829, 36);
T('Disease\u2212free survival time(m)', 507, 1956, 28, {align:'center'});
T('Overall survival time(m)', 1446, 1951, 28, {align:'center'});
T('Survival probability', 166, 1706, 28, {rot:Math.PI/2, align:'center'});
T('Survival probability', 1113, 1706, 28, {rot:Math.PI/2, align:'center'});
function kmKey(x, y, color, bandc) {
 R(x-2, y-5, 15, 22, bandc); R(x, y, 12, 12, color); plusShape(x+11, y+1, 12, 3, color);
}
kmKey(583, 1795, KBLUE, KBLUE_BAND); kmKey(583, 1818, KRED, KRED_BAND);
T('BSO', 607, 1798, 24); T('OP', 607, 1825, 24);
kmKey(1528, 1797, KBLUE, KBLUE_BAND); kmKey(1528, 1819, KRED, KRED_BAND);
T('BSO', 1550, 1799, 24); T('OP', 1550, 1826, 24);

// G / H annotations
T('\u226446 years', 392, 2217, 32, {align:'center'});
T('\u226446 years', 987, 2210, 32, {align:'center'});
T('Log\u2212rank', 195, 2290, 32); T('p = 0.58', 195, 2323, 32);
T('Log\u2212rank', 782, 2290, 32); T('p = 0.67', 782, 2323, 32);
R(506, 2296, 10, 10, GBLUE); R(506, 2317, 10, 9, GRED); T('BSO', 528, 2298, 27); T('OP', 528, 2325, 27);
R(1094, 2296, 10, 10, GBLUE); R(1094, 2317, 10, 9, GRED); T('BSO', 1116, 2298, 27); T('OP', 1116, 2325, 27);
T('Disease\u2212free survival time(m)', 411, 2460, 32, {align:'center'});
T('Overall survival time(m)', 996, 2461, 32, {align:'center'});
T('Survival probability', 91, 2228, 32, {rot:Math.PI/2, align:'center'});
T('Survival probability', 680, 2228, 32, {rot:Math.PI/2, align:'center'});

// I annotations
T('p = 0.562', 1363, 2230, 32, {bold:true});
T('p = 0.168', 1521, 2230, 32, {bold:true});
T('\u226446 years', 1644, 2262, 32, {align:'center'});
T('Ovarian preservation', 1677, 2297, 32, {align:'center'});
R(1685, 2334, 11, 9, IRED); R(1685, 2348, 11, 8, IBLUE);
T('BSO', 1702, 2332, 25); T('OP', 1702, 2356, 25);
T('Overall survival time(m)', 1587, 2465, 32, {align:'center'});
T('Survival probability', 1277, 2228, 32, {rot:Math.PI/2, align:'center'});

// ---------------- CHART ----------------
const chart = echarts.init(document.getElementById('c'), null, {renderer:'canvas'});
chart.setOption({
 animation:false,
 backgroundColor:'#fff',
 textStyle:{fontFamily:FONT},
 grid:grids, xAxis:xAxes, yAxis:yAxes,
 series:S,
 graphic:{elements:GE}
});
</script></body></html>
